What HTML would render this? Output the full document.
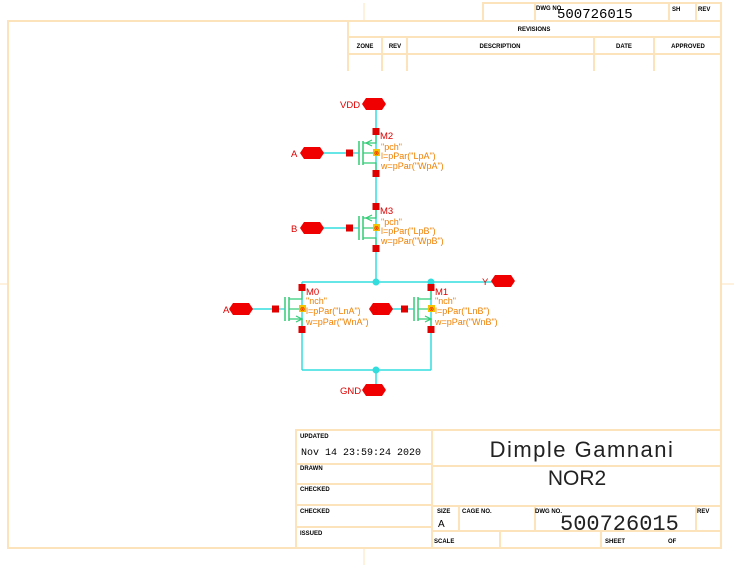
<!DOCTYPE html>
<html><head><meta charset="utf-8"><style>
html,body{margin:0;padding:0;background:#fff;}
svg{display:block;}
text{font-family:"Liberation Sans",sans-serif;}
.s{font-size:6px;font-weight:bold;fill:#000;}
.o{font-size:9px;fill:#f08000;}
.r{font-size:9.5px;fill:#e00000;}
.m{font-family:"Liberation Mono",monospace;}
</style></head><body>
<svg width="734" height="565" viewBox="0 0 734 565" xmlns="http://www.w3.org/2000/svg">
<defs>
<g id="pin"><polygon points="-12,0 -8,-6 8,-6 12,0 8,6 -8,6" fill="#f00000"/></g>
<g id="pmos">
 <line x1="-17" y1="-12" x2="-17" y2="12" stroke="#33cc77" stroke-width="1.5"/>
 <line x1="-13" y1="-12" x2="-13" y2="12" stroke="#33cc77" stroke-width="1.5"/>
 <polyline points="0,-22 0,-10 -13,-10" fill="none" stroke="#33cc77" stroke-width="1.2"/>
 <polyline points="0,22 0,10 -13,10" fill="none" stroke="#33cc77" stroke-width="1.2"/>
 <line x1="-13" y1="0" x2="0" y2="0" stroke="#33cc77" stroke-width="1.2"/>
 <polyline points="-4,-13 -10,-10 -4,-7" fill="none" stroke="#33cc77" stroke-width="1.2"/>
 <rect x="-3" y="-4" width="7" height="7" fill="#f5c400"/>
 <text x="-2" y="2" font-size="6" fill="#f00000">⊗</text>
 <line x1="-17" y1="0" x2="-27" y2="0" stroke="#33cccc" stroke-width="1.2"/>
 <rect x="-30" y="-3.5" width="7" height="7" fill="#e00000"/>
 <rect x="-3.5" y="-25" width="7" height="7" fill="#e00000"/>
 <rect x="-3.5" y="17" width="7" height="7" fill="#e00000"/>
</g>
<g id="nmos">
 <line x1="-17" y1="-12" x2="-17" y2="12" stroke="#33cc77" stroke-width="1.5"/>
 <line x1="-13" y1="-12" x2="-13" y2="12" stroke="#33cc77" stroke-width="1.5"/>
 <polyline points="0,-22 0,-10 -13,-10" fill="none" stroke="#33cc77" stroke-width="1.2"/>
 <polyline points="0,22 0,10 -13,10" fill="none" stroke="#33cc77" stroke-width="1.2"/>
 <line x1="-13" y1="0" x2="0" y2="0" stroke="#33cc77" stroke-width="1.2"/>
 <polyline points="-6,7 0,10 -6,13" fill="none" stroke="#33cc77" stroke-width="1.2"/>
 <rect x="-3" y="-4" width="7" height="7" fill="#f5c400"/>
 <text x="-2" y="2" font-size="6" fill="#f00000">⊗</text>
 <line x1="-17" y1="0" x2="-27" y2="0" stroke="#33cccc" stroke-width="1.2"/>
 <rect x="-30" y="-3.5" width="7" height="7" fill="#e00000"/>
 <rect x="-3.5" y="-25" width="7" height="7" fill="#e00000"/>
 <rect x="-3.5" y="17" width="7" height="7" fill="#e00000"/>
</g>
</defs>
<g stroke="#fde3bb" stroke-width="2" fill="none">
 <rect x="8" y="21" width="713" height="527"/>
 <rect x="483" y="3" width="238" height="18"/>
 <line x1="535" y1="3" x2="535" y2="21"/><line x1="669" y1="3" x2="669" y2="21"/><line x1="696" y1="3" x2="696" y2="21"/>
 <line x1="348" y1="21" x2="348" y2="71"/>
 <line x1="348" y1="37" x2="721" y2="37"/><line x1="348" y1="54" x2="721" y2="54"/>
 <line x1="382" y1="37" x2="382" y2="71"/><line x1="407" y1="37" x2="407" y2="71"/>
 <line x1="594" y1="37" x2="594" y2="71"/><line x1="654" y1="37" x2="654" y2="71"/>
 <rect x="296" y="430" width="425" height="118"/>
 <line x1="432" y1="430" x2="432" y2="548"/>
 <line x1="296" y1="464" x2="432" y2="464"/><line x1="296" y1="484" x2="432" y2="484"/>
 <line x1="296" y1="505" x2="432" y2="505"/><line x1="296" y1="527" x2="432" y2="527"/>
 <line x1="432" y1="466" x2="721" y2="466"/><line x1="432" y1="506" x2="721" y2="506"/>
 <line x1="432" y1="531" x2="721" y2="531"/>
 <line x1="459" y1="506" x2="459" y2="531"/><line x1="535" y1="506" x2="535" y2="531"/>
 <line x1="696" y1="506" x2="696" y2="531"/>
 <line x1="500" y1="531" x2="500" y2="548"/><line x1="601" y1="531" x2="601" y2="548"/>
 <line x1="0" y1="284" x2="8" y2="284" stroke-width="1"/><line x1="721" y1="284" x2="734" y2="284" stroke-width="1"/>
 <line x1="364" y1="3" x2="364" y2="20" stroke-width="1"/><line x1="364" y1="549" x2="364" y2="565" stroke-width="1"/>
</g>
<text x="536" y="10" class="s" font-size="5">DWG NO.</text>
<text x="557" y="18" font-size="14" class="m">500726015</text>
<text x="672" y="11" class="s" font-size="5">SH</text><text x="698" y="11" class="s" font-size="5">REV</text>
<text x="534" y="31" class="s" text-anchor="middle">REVISIONS</text>
<text x="365" y="48" class="s" text-anchor="middle">ZONE</text>
<text x="395" y="48" class="s" text-anchor="middle">REV</text>
<text x="500" y="48" class="s" text-anchor="middle">DESCRIPTION</text>
<text x="624" y="48" class="s" text-anchor="middle">DATE</text>
<text x="688" y="48" class="s" text-anchor="middle">APPROVED</text>
<text x="300" y="438" class="s" font-size="5.5">UPDATED</text>
<text x="301" y="455" font-size="10" class="m">Nov 14 23:59:24 2020</text>
<text x="300" y="470" class="s" font-size="5.5">DRAWN</text>
<text x="300" y="491" class="s" font-size="5.5">CHECKED</text>
<text x="300" y="513" class="s" font-size="5.5">CHECKED</text>
<text x="300" y="535" class="s" font-size="5.5">ISSUED</text>
<text x="582" y="457" font-size="22" text-anchor="middle" fill="#222" letter-spacing="1.5">Dimple Gamnani</text>
<text x="577" y="485" font-size="21" text-anchor="middle" fill="#222">NOR2</text>
<text x="437" y="513" class="s" font-size="5">SIZE</text>
<text x="438" y="527" font-size="10">A</text>
<text x="462" y="513" class="s" font-size="5">CAGE NO.</text>
<text x="535" y="513" class="s" font-size="5">DWG NO.</text>
<text x="560" y="530" font-size="22" class="m" fill="#222">500726015</text>
<text x="697" y="513" class="s" font-size="5">REV</text>
<text x="434" y="543" class="s" font-size="5">SCALE</text>
<text x="605" y="543" class="s" font-size="5">SHEET</text>
<text x="668" y="543" class="s" font-size="5">OF</text>

<g stroke="#33dddd" stroke-width="1.5" fill="none">
 <line x1="376" y1="104" x2="376" y2="282"/>
 <line x1="302" y1="282" x2="503" y2="282"/>
 <line x1="302" y1="282" x2="302" y2="370"/>
 <line x1="431" y1="282" x2="431" y2="370"/>
 <line x1="302" y1="370" x2="431" y2="370"/>
 <line x1="376" y1="370" x2="376" y2="390"/>
 <line x1="312" y1="153" x2="346" y2="153"/>
 <line x1="312" y1="228" x2="346" y2="228"/>
 <line x1="241" y1="309" x2="272" y2="309"/>
 <line x1="381" y1="309" x2="401" y2="309"/>
</g>
<circle cx="376" cy="282" r="3.5" fill="#33dddd"/><circle cx="431" cy="282" r="3.5" fill="#33dddd"/><circle cx="376" cy="370" r="3.5" fill="#33dddd"/>
<use href="#pin" x="374" y="104"/><use href="#pin" x="312" y="153"/><use href="#pin" x="312" y="228"/>
<use href="#pin" x="241" y="309"/><use href="#pin" x="381" y="309"/><use href="#pin" x="503" y="281"/><use href="#pin" x="374" y="390"/>
<text x="340" y="108" class="r">VDD</text><text x="291" y="157" class="r">A</text><text x="291" y="232" class="r">B</text>
<text x="223" y="313" class="r">A</text><text x="372" y="313" class="r">B</text><text x="482" y="285" class="r">Y</text><text x="340" y="394" class="r">GND</text>
<use href="#pmos" x="376" y="153"/><use href="#pmos" x="376" y="228"/>
<use href="#nmos" x="302" y="309"/><use href="#nmos" x="431" y="309"/>
<g class="o">
<text x="380" y="139" fill="#e00000" font-size="9.5">M2</text><text x="381" y="150" class="o">"pch"</text><text x="381" y="159" class="o">l=pPar("LpA")</text><text x="381" y="169" class="o">w=pPar("WpA")</text>
<text x="380" y="214" fill="#e00000" font-size="9.5">M3</text><text x="381" y="225" class="o">"pch"</text><text x="381" y="234" class="o">l=pPar("LpB")</text><text x="381" y="244" class="o">w=pPar("WpB")</text>
<text x="306" y="295" fill="#e00000" font-size="9.5">M0</text><text x="306" y="304" class="o">"nch"</text><text x="306" y="314" class="o">l=pPar("LnA")</text><text x="306" y="325" class="o">w=pPar("WnA")</text>
<text x="435" y="295" fill="#e00000" font-size="9.5">M1</text><text x="435" y="304" class="o">"nch"</text><text x="435" y="314" class="o">l=pPar("LnB")</text><text x="435" y="325" class="o">w=pPar("WnB")</text>
</g>
</svg>
</body></html>
